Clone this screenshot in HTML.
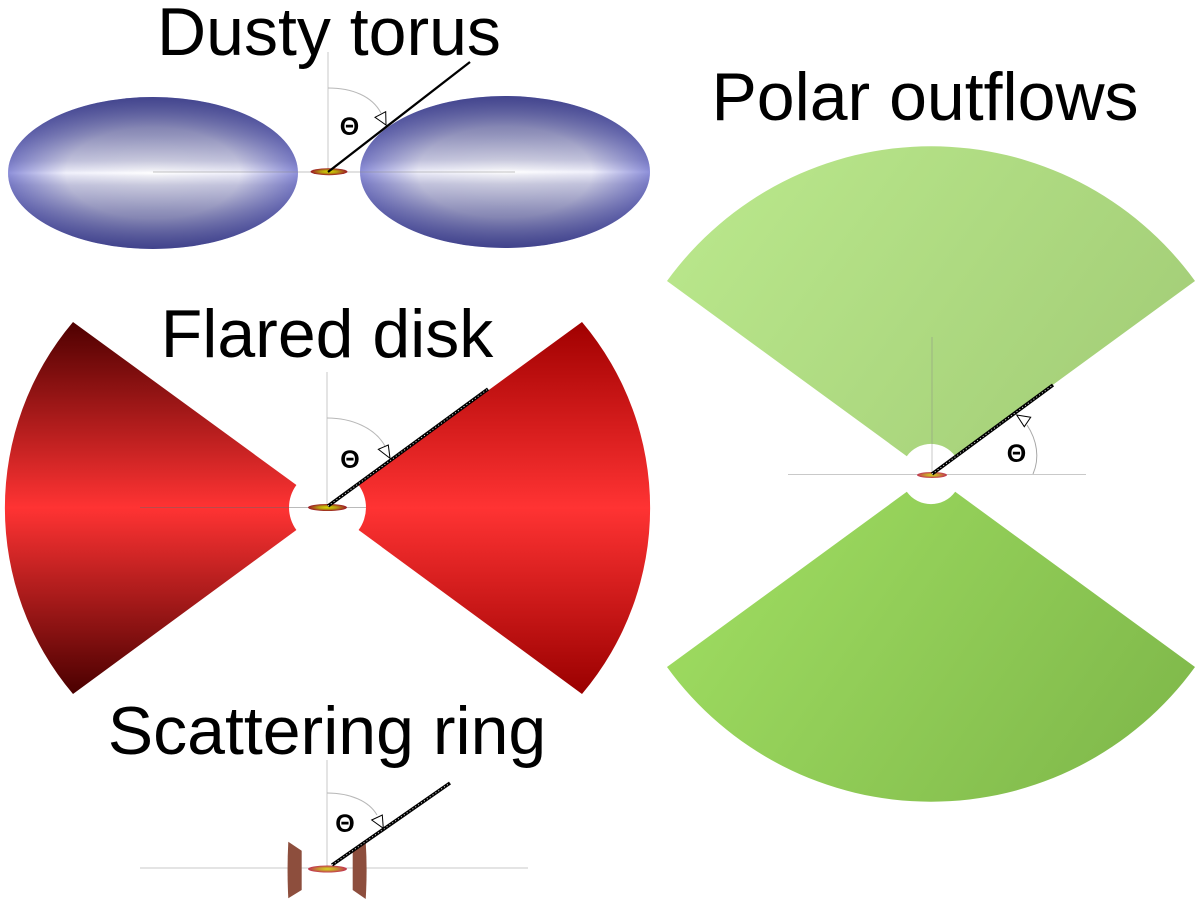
<!DOCTYPE html>
<html>
<head>
<meta charset="utf-8">
<style>
  html, body { margin: 0; padding: 0; background: #ffffff; }
  body { width: 1200px; height: 905px; overflow: hidden; }
  svg { display: block; }
  text { font-family: "Liberation Sans", "DejaVu Sans", sans-serif; fill: #000; }
</style>
</head>
<body>
<svg width="1200" height="905" viewBox="0 0 1200 905" xmlns="http://www.w3.org/2000/svg">
  <defs>
    <radialGradient id="torusBase" cx="0.5" cy="0.5" r="0.5">
      <stop offset="0" stop-color="#ffffff"/>
      <stop offset="0.6" stop-color="#f0f0fb"/>
      <stop offset="1" stop-color="#8e90da"/>
    </radialGradient>
    <linearGradient id="torusShade" x1="0" y1="0" x2="0" y2="1">
      <stop offset="0" stop-color="#30327a" stop-opacity="0.8"/>
      <stop offset="0.25" stop-color="#30327a" stop-opacity="0.5"/>
      <stop offset="0.42" stop-color="#30327a" stop-opacity="0.25"/>
      <stop offset="0.48" stop-color="#30327a" stop-opacity="0.08"/>
      <stop offset="0.5" stop-color="#30327a" stop-opacity="0"/>
      <stop offset="0.52" stop-color="#30327a" stop-opacity="0.08"/>
      <stop offset="0.58" stop-color="#30327a" stop-opacity="0.25"/>
      <stop offset="0.75" stop-color="#30327a" stop-opacity="0.5"/>
      <stop offset="1" stop-color="#30327a" stop-opacity="0.82"/>
    </linearGradient>
    <linearGradient id="redL" gradientUnits="userSpaceOnUse" x1="0" y1="322" x2="0" y2="694">
      <stop offset="0" stop-color="#4e0000"/>
      <stop offset="0.5" stop-color="#ff3333"/>
      <stop offset="1" stop-color="#4a0000"/>
    </linearGradient>
    <linearGradient id="redR" gradientUnits="userSpaceOnUse" x1="0" y1="322" x2="0" y2="694">
      <stop offset="0" stop-color="#a00000"/>
      <stop offset="0.5" stop-color="#ff3333"/>
      <stop offset="1" stop-color="#9a0000"/>
    </linearGradient>
    <linearGradient id="greenTop" gradientUnits="userSpaceOnUse" x1="700" y1="148" x2="1150" y2="474">
      <stop offset="0" stop-color="#bae88c"/>
      <stop offset="1" stop-color="#a2cc76"/>
    </linearGradient>
    <linearGradient id="greenBot" gradientUnits="userSpaceOnUse" x1="700" y1="492" x2="1150" y2="800">
      <stop offset="0" stop-color="#a0de62"/>
      <stop offset="1" stop-color="#7fb84a"/>
    </linearGradient>
    <radialGradient id="emit" cx="0.5" cy="0.5" r="0.5">
      <stop offset="0" stop-color="#d8d800"/>
      <stop offset="0.45" stop-color="#b8a010"/>
      <stop offset="1" stop-color="#9a1424"/>
    </radialGradient>
    <radialGradient id="emit2" cx="0.5" cy="0.5" r="0.5">
      <stop offset="0" stop-color="#d8d820"/>
      <stop offset="0.45" stop-color="#c89a30"/>
      <stop offset="1" stop-color="#c03050"/>
    </radialGradient>
  </defs>

  <!-- ===================== Dusty torus ===================== -->
  <text x="329" y="55" font-size="68" text-anchor="middle">Dusty torus</text>

  <ellipse cx="153" cy="173" rx="145" ry="76" fill="url(#torusBase)"/>
  <ellipse cx="153" cy="173" rx="145" ry="76" fill="url(#torusShade)"/>
  <ellipse cx="505" cy="172" rx="145" ry="76" fill="url(#torusBase)"/>
  <ellipse cx="505" cy="172" rx="145" ry="76" fill="url(#torusShade)"/>

  <line x1="153" y1="172" x2="515" y2="172" stroke="#888" stroke-opacity="0.5" stroke-width="1"/>
  <line x1="328" y1="52" x2="328" y2="172" stroke="#888" stroke-opacity="0.45" stroke-width="1"/>
  <path d="M328,88 C352,88 372,96 381,113" fill="none" stroke="#b8b8b8" stroke-width="1"/>
  <ellipse cx="329" cy="171.7" rx="18.5" ry="3.5" fill="url(#emit)"/>
  <line x1="328" y1="172" x2="470" y2="62" stroke="#000" stroke-width="2.3"/>
  <polygon points="375,117.3 385.7,111.7 386,125" fill="#fff" stroke="#000" stroke-width="1"/>
  <text x="349.5" y="135" font-size="25" font-weight="bold" text-anchor="middle">Θ</text>

  <!-- ===================== Flared disk ===================== -->
  <text x="327" y="357" font-size="68" text-anchor="middle">Flared disk</text>

  <path d="M73,322 A288,288 0 0 0 73,694 L296.4,530 A38,38 0 0 1 296.4,485 Z" fill="url(#redL)"/>
  <path d="M582,322 A288,288 0 0 1 582,694 L358.6,530 A38,38 0 0 0 358.6,485 Z" fill="url(#redR)"/>

  <line x1="140" y1="507.5" x2="366" y2="507.5" stroke="#666" stroke-opacity="0.45" stroke-width="1"/>
  <line x1="327" y1="372" x2="327" y2="507" stroke="#888" stroke-opacity="0.45" stroke-width="1"/>
  <path d="M327,418 C352,418 375,428 385,446" fill="none" stroke="#b8b8b8" stroke-width="1"/>
  <ellipse cx="327.5" cy="507.5" rx="19.5" ry="3.5" fill="url(#emit)"/>
  <line x1="328" y1="506" x2="488" y2="389" stroke="#000" stroke-width="3.5"/>
  <line x1="328" y1="506" x2="488" y2="389" stroke="#fff" stroke-width="0.9" stroke-dasharray="1 2.5"/>
  <polygon points="378.3,449.3 388.3,445 390,458.3" fill="#fff" stroke="#000" stroke-width="1"/>
  <text x="350" y="468" font-size="25" font-weight="bold" text-anchor="middle">Θ</text>

  <!-- ===================== Scattering ring ===================== -->
  <text x="327" y="754" font-size="68" text-anchor="middle">Scattering ring</text>

  <line x1="140" y1="868" x2="528" y2="868" stroke="#888" stroke-opacity="0.45" stroke-width="1"/>
  <line x1="327" y1="760" x2="327" y2="868" stroke="#888" stroke-opacity="0.45" stroke-width="1"/>
  <path d="M288.3,841.7 L301.7,850.7 L301.7,890 L288.3,898.3 Q286.8,870 288.3,841.7 Z" fill="#8d4e3d"/>
  <path d="M352.7,850 L365.7,841.7 Q367.5,870 365.7,899 L352.7,890 Z" fill="#8d4e3d"/>
  <path d="M327,793 C350,793 369,801 377,815" fill="none" stroke="#b8b8b8" stroke-width="1"/>
  <ellipse cx="327.5" cy="869" rx="19.5" ry="3.5" fill="url(#emit2)"/>
  <line x1="332" y1="865" x2="450" y2="783" stroke="#000" stroke-width="3.5"/>
  <line x1="332" y1="865" x2="450" y2="783" stroke="#fff" stroke-width="0.9" stroke-dasharray="1 2.5"/>
  <polygon points="371.7,820 382.3,815 383.3,828.3" fill="#fff" stroke="#000" stroke-width="1"/>
  <text x="345" y="832" font-size="25" font-weight="bold" text-anchor="middle">Θ</text>

  <!-- ===================== Polar outflows ===================== -->
  <text x="925" y="120" font-size="68" text-anchor="middle">Polar outflows</text>

  <path d="M667,281 A326,326 0 0 1 1195,281 L955.2,456.2 A30,30 0 0 0 906.8,456.2 Z" fill="url(#greenTop)"/>
  <path d="M906.8,491.8 A30,30 0 0 0 955.2,491.8 L1195,667 A326,326 0 0 1 667,667 Z" fill="url(#greenBot)"/>

  <line x1="788" y1="474.5" x2="1086" y2="474.5" stroke="#888" stroke-opacity="0.45" stroke-width="1"/>
  <line x1="932" y1="337" x2="932" y2="474" stroke="#888" stroke-opacity="0.45" stroke-width="1"/>
  <path d="M1033,474 C1040,458 1037,440 1027,425" fill="none" stroke="#a8a8a8" stroke-width="1"/>
  <ellipse cx="932" cy="475" rx="15" ry="3" fill="url(#emit2)"/>
  <line x1="932" y1="474" x2="1053" y2="385" stroke="#000" stroke-width="3.5"/>
  <line x1="932" y1="474" x2="1053" y2="385" stroke="#fff" stroke-width="0.9" stroke-dasharray="1 2.5"/>
  <polygon points="1016.7,415 1030.7,417.3 1024.3,426.7" fill="#fff" stroke="#000" stroke-width="1"/>
  <text x="1016.5" y="462" font-size="25" font-weight="bold" text-anchor="middle">Θ</text>
</svg>
</body>
</html>
